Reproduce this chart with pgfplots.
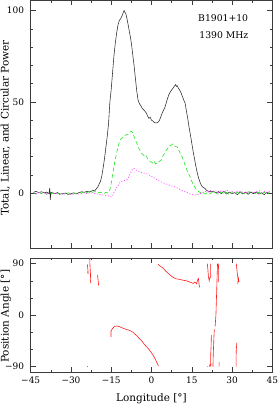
\documentclass[border=0pt]{standalone}
\usepackage{pgfplots}
\pgfplotsset{compat=1.18}
\usepackage{fontspec}
\setmainfont{DejaVu Serif}
\definecolor{tot}{RGB}{40,40,40}
\definecolor{lin}{RGB}{30,230,30}
\definecolor{circ}{RGB}{255,60,255}
\definecolor{pa}{RGB}{255,30,30}
\definecolor{frame}{RGB}{60,60,60}
\pgfplotsset{
  pulsar/.style={
    scale only axis, width=241.6bp,
    xmin=-45, xmax=45,
    xtick={-45,-30,-15,0,15,30,45},
    minor x tick num=1,
    tick align=inside, xtick pos=both, ytick pos=both,
    major tick length=5bp, minor tick length=2.5bp,
    every tick/.style={frame, line width=0.5bp},
    axis line style={frame, line width=0.6bp},
    tick label style={font=\fontsize{9}{10}\selectfont},
    label style={font=\fontsize{10.5}{11}\selectfont},
    yticklabel style={anchor=east, inner sep=0pt, xshift=-6.5bp},
    xticklabel style={anchor=base, yshift=-11.7bp},
    clip=true,
  }
}
\begin{document}
\begin{tikzpicture}
% ---------- top panel ----------
\begin{axis}[pulsar,
  at={(30.7bp,406.5bp)}, anchor=north west, height=247.5bp,
  ymin=-30, ymax=105.5,
  ytick={0,50,100}, yticklabels={0,50,100},
  minor y tick num=4,
  xticklabels={},
  ylabel={Total, Linear, and Circular Power},
  ylabel style={at={(axis description cs:-0.125,0.485)}, anchor=north, inner sep=0pt},
]
\addplot[tot, line width=0.55bp] coordinates {
(-44,0.5)(-43,1.0)(-42,0.3)(-41,0.8)(-40,0.2)(-39,0.6)(-38.2,-0.3)(-37.9,2.8)(-37.7,-3.6)(-37.5,0.5)
(-37,0.2)(-36,-0.2)(-35,0.3)(-34,-0.5)(-33,-0.2)(-32,0.1)(-31,-0.6)(-30,-0.3)(-29,0.2)(-28,-0.4)
(-27,0.3)(-26,0.8)(-25,0.5)(-24,1.0)(-23,0.7)(-22,1.4)(-21,1.6)(-20.5,2.5)(-20,3.5)(-19.5,5)
(-19,6.5)(-18.5,9.5)(-18,14)(-17.5,19)(-17,25)(-16.5,31)(-16,38)(-15.5,50)(-15,57)(-14.5,66)
(-14,75)(-13.5,82)(-13,87.5)(-12.5,92)(-12,94.5)(-11.5,95.5)(-11,97)(-10.5,99)(-10.2,100)(-9.9,99)
(-9.6,98.5)(-9.2,96)(-8.8,93)(-8.3,89)(-7.8,85)(-7.4,81)(-7,76)(-6.5,70)(-6,63)(-5.5,56)
(-5,51)(-4.5,49)(-4,48)(-3.5,46.5)(-3,45.8)(-2.5,45)(-2,44)(-1.5,42.5)(-1,41)(-0.5,41.5)
(0,40)(0.5,39.5)(1,38.8)(1.5,38.5)(2,38.5)(2.5,39)(3,40)(3.5,42)(4,44)(4.5,45.5)
(5,47)(5.5,49.5)(6,52)(6.5,54)(7,55.5)(7.5,56.5)(8,57.5)(8.5,58.5)(9,59.5)(9.3,58.5)
(9.6,58.8)(10,57.5)(10.5,56.5)(11,55)(11.5,53)(12,51)(12.5,49.5)(13,45)(13.5,41)(14,36)
(14.5,32)(15,27.5)(15.5,23)(16,19)(16.5,15)(17,11.5)(17.5,8.5)(18,6.3)(18.5,4.5)(19,3.5)
(19.5,3)(20,2.5)(20.5,1.5)(21,1.2)(22,0.8)(23,1.0)(24,0.2)(25,0.9)(26,-0.2)(27,1.0)
(28,-0.5)(29,0.6)(30,-0.3)(31,0.4)(32,-0.8)(33,0.8)(34,-0.4)(35,0.6)(36,-0.6)(37,0.5)
(38,-0.3)(39,0.7)(40,-0.5)(41,0.2)(42,-0.8)(43,0.5)(44,-0.2)
};
\addplot[lin, line width=0.6bp, dash pattern=on 4bp off 2.5bp] coordinates {
(-44,0.3)(-43,-0.5)(-42,0.6)(-41,-0.3)(-40,0.2)(-39,-0.6)(-38,0.4)(-37,-0.2)(-36,0.5)(-35,-0.4)
(-34,0.1)(-33,-0.5)(-32,-0.2)(-31,0.3)(-30,-0.6)(-29,0.2)(-28,-0.3)(-27,0.5)(-26,0.1)(-25,0.8)
(-24,0.4)(-23,1.0)(-22,0.5)(-21,0.9)(-20,0.2)(-19,0.5)(-18,-0.3)(-17,0.4)(-16.5,0.2)(-16,0.5)
(-15.5,2)(-15,5.5)(-14.5,10)(-14,14.5)(-13.5,18.5)(-13,22)(-12.5,25)(-12,28)(-11.5,29.5)(-11,30)
(-10.5,31)(-10,31.5)(-9.5,32)(-9,32)(-8.5,32.5)(-8,33.5)(-7.5,34)(-7,33)(-6.5,31)(-6,29)
(-5.5,27.5)(-5,25.5)(-4.5,24)(-4,22.5)(-3.5,21.5)(-3,21)(-2.5,20)(-2,20.5)(-1.5,19)(-1,18)
(-0.5,17.5)(0,17)(0.5,16.5)(1,17.5)(1.5,16)(2,16.5)(2.5,17)(3,17.5)(3.5,18)(4,19.5)
(4.5,21)(5,22)(5.5,23.5)(6,24.5)(6.5,25)(7,26)(7.5,26.5)(8,27)(8.5,26)(9,25.5)
(9.5,25.5)(10,24)(10.5,22.5)(11,21)(11.5,19.5)(12,17.5)(12.5,15.5)(13,13.5)(13.5,11.5)(14,10)
(14.5,8.5)(15,6.5)(15.5,5)(16,3.5)(16.5,2.5)(17,1.5)(17.5,1)(18,0.5)(19,0.2)(20,-0.5)
(21,0.6)(22,-0.2)(23,0.9)(24,0.1)(25,-0.6)(26,0.7)(27,-0.3)(28,0.5)(29,-0.8)(30,0.3)
(31,-0.4)(32,0.6)(33,-0.7)(34,0.2)(35,-0.5)(36,0.8)(37,-0.2)(38,0.4)(39,-0.6)(40,0.5)
(41,-0.3)(42,0.6)(43,-0.8)(44,0.3)
};
\addplot[circ, line width=0.7bp, dash pattern=on 1bp off 1.8bp] coordinates {
(-44,0.2)(-43,-0.4)(-42,0.5)(-41,-0.2)(-40,0.3)(-39,-0.5)(-38,0.1)(-37,-0.6)(-36,-0.1)(-35,-0.3)
(-34,-0.8)(-33,-0.2)(-32,-0.5)(-31,-0.9)(-30,-0.4)(-29,-0.6)(-28,-0.2)(-27,-0.5)(-26,-0.1)(-25,0.2)
(-24,-0.3)(-23,0.4)(-22,0.1)(-21,-0.2)(-20,-0.5)(-19,-0.8)(-18,-1.0)(-17,-1.2)(-16,-1.5)(-15,-2)
(-14.5,-1.5)(-14,0.5)(-13.5,1.8)(-13,3)(-12.5,4)(-12,5.5)(-11.5,6)(-11,6.5)(-10.5,6.5)(-10,7)
(-9.5,7)(-9,7.5)(-8.5,9)(-8,10.5)(-7.5,12)(-7,13.5)(-6.5,13.5)(-6,13)(-5.5,12.5)(-5,12)
(-4.5,11.8)(-4,11.5)(-3,11)(-2,10.8)(-1,10)(0,9.3)(1,8.3)(2,7.5)(3,6.5)(4,6)
(5,5.3)(6,4.8)(7,4.2)(8,3.8)(9,3.3)(10,2.5)(11,1.8)(12,1.0)(13,0.5)(14,-0.2)
(15,-0.7)(16,-1.0)(17,-0.8)(18,-0.3)(19,0.2)(20,1.0)(21,0.5)(22,1.5)(23,0.8)(24,1.2)
(25,0.3)(26,1.4)(27,0.6)(28,1.8)(29,0.5)(30,1.0)(31,0.2)(32,1.2)(33,0.4)(34,0.8)
(35,-0.2)(36,0.6)(37,1.0)(38,0.2)(39,0.8)(40,1.5)(41,0.4)(42,1.0)(43,0.3)(44,1.2)
};
\node[anchor=base west, inner sep=0pt, font=\fontsize{9.3}{10}\selectfont] at (rel axis cs:0.6925,0.914) {B1901+10};
\node[anchor=base west, inner sep=0pt, font=\fontsize{9.3}{10}\selectfont] at (rel axis cs:0.6975,0.847) {1390 MHz};
\end{axis}
% ---------- bottom panel ----------
\begin{axis}[pulsar,
  at={(30.7bp,149bp)}, anchor=north west, height=114.3bp,
  ymin=-100, ymax=100,
  ytick={-90,0,90}, yticklabels={−90,0,90},
  minor y tick num=2,
  xticklabels={−45,−30,−15,0,15,30,45},
  ylabel={Position Angle [°]},
  ylabel style={at={(axis description cs:-0.125,0.49)}, anchor=north, inner sep=0pt},
  xlabel={Longitude [°]},
  xlabel style={at={(axis description cs:0.5,0)}, anchor=base, yshift=-29.7bp, inner sep=0pt},
  unbounded coords=jump,
]
\addplot[pa, line width=0.6bp] coordinates {
(-23.9,89)(-23.7,80)(-23.6,72)(-23.8,76)
(-23.5,nan)
(-23.0,99)(-22.9,85)(-22.7,70)(-22.8,62)(-22.6,56)
(-22,nan)
(-20.1,70)(-19.9,62)(-19.7,52)
(-19,nan)
(-23.85,-89.5)(-23.7,-90.5)
(-20,nan)
(-15.1,-38)(-15.1,-28)(-14.6,-24)(-14.2,-21.5)(-13.6,-19.5)(-13,-19)(-12.3,-19.5)(-11.7,-20.5)
(-10.8,-22.5)(-10,-24)(-9.3,-25)(-8.6,-26)(-7.6,-28)(-6.9,-30)(-6.2,-33)(-5.5,-36)(-4.5,-41)
(-3.5,-46)(-2.5,-52)(-1.5,-57)(-0.6,-62)(0.3,-68)(1.0,-73)(1.6,-79)(2.1,-84)(2.6,-89)
(2.6,nan)
(2.5,89)(3.2,86)(4.4,82)(5.3,77)(6.3,73)(7.2,69)(8.1,66)(9.2,63.5)(10.6,62.5)(11.8,61)
(13.1,60)(14.2,58)(15.0,56.6)(15.6,55.5)(16.2,58)(16.8,55)(17.2,62)(17.5,64)(17.7,55)(17.9,48.5)
(18,nan)
(20.8,90)(21.0,80)(21.2,68)(21.5,60)(21.7,66)
(21.8,nan)
(22.0,90)(22.0,78)(22.1,65)
(22.2,nan)
(24.6,90)(24.4,60)(24.2,30)(24.0,0)(23.7,-20)
(23.6,nan)
(23.4,-25)(23.2,-45)(23.0,-70)(22.9,-90)
(22.8,nan)
(22.3,-35)(22.2,-55)(22.0,-75)(22.1,-90)
(22,nan)
(21.8,-86)(21.6,-90)
(21,nan)
(20.9,-89.5)(20.95,-90.5)
(21,nan)
(25.0,90)(24.9,75)(24.9,58)
(25,nan)
(25.2,-82)(25.2,-90)
(26,nan)
(31.6,90)(31.8,80)(32.1,68)(32.3,60)(32.1,55)(32.4,64)(32.6,58)
(32,nan)
(31.8,-48)(31.6,-60)(31.5,-75)(31.5,-90)
};
\end{axis}
\pgfresetboundingbox
\path[use as bounding box] (0bp,0bp) rectangle (278bp,407bp);
\end{tikzpicture}
\end{document}
